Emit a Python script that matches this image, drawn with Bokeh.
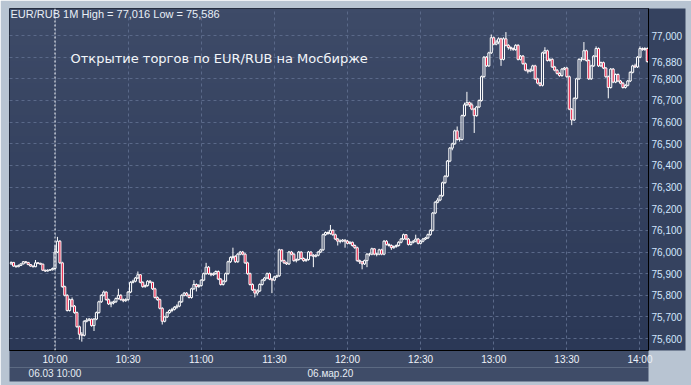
import numpy as np
from bokeh.plotting import figure
from bokeh.models import (ColumnDataSource, FixedTicker, CustomJSTickFormatter, Span,
                          Label, LinearAxis, Range1d)
from bokeh.embed import file_html
from bokeh.resources import INLINE

# ---------------- data: EUR/RUB 1-minute candles, 06.03.2020 ----------------
# minute index relative to 10:00 (first bar 09:42, last bar 14:03)
minutes = list(range(-18, 244))
first_open = 75.945

close = [
    75.952, 75.935, 75.932, 75.938, 75.945, 75.955, 75.952, 75.942, 75.935, 75.932,
    75.950, 75.948, 75.944, 75.916, 75.912, 75.916, 75.918, 75.924,
    76.000, 76.050, 75.950, 75.840, 75.800, 75.730, 75.780, 75.750, 75.720, 75.655,
    75.620, 75.615, 75.680, 75.685, 75.690, 75.660, 75.690, 75.720, 75.770, 75.800,
    75.815, 75.780, 75.760, 75.765, 75.770, 75.785, 75.800, 75.780, 75.775, 75.780,
    75.815, 75.860, 75.865, 75.880, 75.895, 75.860, 75.840, 75.845, 75.865, 75.860,
    75.830, 75.790, 75.780, 75.740, 75.680, 75.700, 75.720, 75.730, 75.735, 75.745,
    75.750, 75.770, 75.800, 75.810, 75.800, 75.790, 75.830, 75.850, 75.840, 75.845,
    75.870, 75.900, 75.930, 75.900, 75.895, 75.900, 75.910, 75.875, 75.850, 75.865,
    75.900, 75.955, 75.975, 75.980, 75.955, 75.990, 76.000, 75.990, 75.950, 75.900,
    75.850, 75.825, 75.810, 75.820, 75.850, 75.870, 75.880, 75.900, 75.875, 75.870,
    75.885, 75.890, 76.010, 75.960, 75.950, 75.945, 76.000, 75.990, 75.960, 75.965,
    76.000, 75.970, 75.960, 75.965, 76.000, 75.985, 75.980, 75.985, 76.000, 76.010,
    76.080, 76.090, 76.085, 76.100, 76.080, 76.060, 76.050, 76.050, 76.055, 76.050,
    76.040, 76.045, 76.030, 76.020, 75.960, 75.955, 75.945, 75.960, 75.990, 75.990,
    76.015, 75.990, 75.990, 76.010, 75.990, 76.050, 76.035, 76.030, 76.020, 76.025,
    76.030, 76.045, 76.060, 76.080, 76.060, 76.035, 76.045, 76.050, 76.060, 76.040,
    76.050, 76.060, 76.065, 76.080, 76.100, 76.180, 76.230, 76.240, 76.260, 76.320,
    76.350, 76.420, 76.480, 76.500, 76.560, 76.520, 76.520, 76.630, 76.680, 76.690,
    76.680, 76.660, 76.630, 76.670, 76.700, 76.810, 76.900, 76.860, 76.920, 76.990,
    76.960, 76.970, 76.985, 76.890, 76.985, 76.955, 76.945, 76.940, 76.935, 76.955,
    76.890, 76.905, 76.870, 76.840, 76.835, 76.840, 76.860, 76.800, 76.780, 76.770,
    76.920, 76.930, 76.885, 76.890, 76.855, 76.840, 76.825, 76.815, 76.845, 76.850,
    76.810, 76.660, 76.610, 76.710, 76.800, 76.890, 76.890, 76.930, 76.885, 76.800,
    76.860, 76.905, 76.940, 76.860, 76.875, 76.850, 76.810, 76.760, 76.845, 76.785,
    76.820, 76.790, 76.780, 76.760, 76.770, 76.790, 76.830, 76.860, 76.855, 76.900,
    76.940, 76.935, 76.940, 76.880,
]

high = [
    75.956, 75.954, 75.938, 75.942, 75.948, 75.958, 75.958, 75.954, 75.944, 75.938,
    75.963, 75.953, 75.950, 75.946, 75.918, 75.920, 75.921, 75.928,
    76.030, 76.070, 76.055, 75.955, 75.845, 75.805, 75.785, 75.790, 75.755, 75.725,
    75.660, 75.630, 75.685, 75.695, 75.695, 75.692, 75.695, 75.725, 75.775, 75.805,
    75.822, 75.818, 75.785, 75.772, 75.775, 75.790, 75.830, 75.805, 75.785, 75.786,
    75.820, 75.865, 75.872, 75.885, 75.910, 75.898, 75.865, 75.850, 75.870, 75.870,
    75.862, 75.835, 75.795, 75.785, 75.745, 75.705, 75.725, 75.735, 75.742, 75.750,
    75.758, 75.775, 75.805, 75.815, 75.815, 75.805, 75.835, 75.870, 75.855, 75.852,
    75.875, 75.905, 75.950, 75.935, 75.905, 75.906, 75.915, 75.915, 75.880, 75.870,
    75.905, 75.960, 75.980, 76.020, 75.985, 75.995, 76.005, 76.005, 75.995, 75.955,
    75.905, 75.855, 75.830, 75.828, 75.855, 75.875, 75.885, 75.905, 75.905, 75.880,
    75.890, 75.895, 76.015, 76.012, 75.965, 75.955, 76.005, 76.005, 75.995, 75.970,
    76.005, 76.003, 75.975, 75.970, 76.005, 76.003, 75.990, 75.990, 76.005, 76.015,
    76.085, 76.095, 76.095, 76.125, 76.105, 76.085, 76.065, 76.058, 76.060, 76.058,
    76.055, 76.050, 76.048, 76.035, 76.025, 75.965, 75.958, 75.965, 75.995, 75.996,
    76.020, 76.018, 75.996, 76.015, 76.015, 76.055, 76.055, 76.040, 76.035, 76.030,
    76.035, 76.050, 76.065, 76.085, 76.083, 76.065, 76.050, 76.055, 76.080, 76.065,
    76.055, 76.065, 76.070, 76.085, 76.105, 76.185, 76.235, 76.250, 76.265, 76.325,
    76.355, 76.425, 76.485, 76.505, 76.565, 76.580, 76.530, 76.635, 76.690, 76.740,
    76.695, 76.690, 76.665, 76.675, 76.705, 76.815, 76.905, 76.905, 76.925, 77.005,
    76.995, 76.980, 76.992, 76.990, 76.992, 77.016, 76.960, 76.950, 76.945, 76.960,
    76.960, 76.910, 76.910, 76.875, 76.845, 76.848, 76.865, 76.865, 76.805, 76.785,
    76.925, 76.946, 76.935, 76.895, 76.895, 76.860, 76.845, 76.830, 76.850, 76.855,
    76.855, 76.815, 76.665, 76.715, 76.805, 76.895, 76.900, 76.970, 76.935, 76.890,
    76.865, 76.910, 76.950, 76.945, 76.880, 76.880, 76.855, 76.815, 76.850, 76.850,
    76.825, 76.825, 76.795, 76.785, 76.775, 76.795, 76.835, 76.865, 76.870, 76.905,
    76.950, 76.945, 76.946, 76.945,
]

low = [
    75.942, 75.932, 75.928, 75.930, 75.935, 75.943, 75.947, 75.939, 75.932, 75.929,
    75.930, 75.944, 75.940, 75.912, 75.908, 75.910, 75.913, 75.915,
    75.920, 75.995, 75.945, 75.835, 75.795, 75.725, 75.725, 75.745, 75.715, 75.650,
    75.595, 75.586, 75.610, 75.675, 75.680, 75.655, 75.635, 75.685, 75.715, 75.765,
    75.795, 75.775, 75.755, 75.745, 75.758, 75.765, 75.780, 75.775, 75.768, 75.770,
    75.775, 75.810, 75.855, 75.860, 75.875, 75.855, 75.835, 75.835, 75.840, 75.855,
    75.825, 75.785, 75.775, 75.735, 75.665, 75.675, 75.695, 75.715, 75.722, 75.730,
    75.738, 75.745, 75.765, 75.795, 75.795, 75.785, 75.785, 75.825, 75.818, 75.835,
    75.840, 75.865, 75.895, 75.895, 75.888, 75.890, 75.895, 75.870, 75.845, 75.845,
    75.860, 75.895, 75.950, 75.965, 75.950, 75.950, 75.985, 75.985, 75.945, 75.895,
    75.845, 75.820, 75.790, 75.800, 75.815, 75.845, 75.865, 75.875, 75.870, 75.810,
    75.865, 75.880, 75.885, 75.955, 75.945, 75.940, 75.940, 75.985, 75.955, 75.952,
    75.960, 75.965, 75.955, 75.955, 75.960, 75.980, 75.930, 75.975, 75.980, 75.995,
    76.005, 76.075, 76.080, 76.080, 76.075, 76.055, 76.030, 76.040, 76.045, 76.020,
    76.035, 76.035, 76.025, 76.015, 75.955, 75.945, 75.920, 75.940, 75.930, 75.980,
    75.985, 75.985, 75.980, 75.985, 75.985, 75.985, 76.030, 76.025, 76.010, 76.015,
    76.020, 76.025, 76.040, 76.055, 76.055, 76.030, 76.030, 76.040, 76.045, 76.035,
    76.035, 76.045, 76.055, 76.060, 76.075, 76.095, 76.175, 76.225, 76.235, 76.255,
    76.315, 76.345, 76.415, 76.470, 76.495, 76.515, 76.510, 76.515, 76.625, 76.675,
    76.670, 76.655, 76.550, 76.625, 76.665, 76.695, 76.805, 76.855, 76.855, 76.915,
    76.955, 76.955, 76.960, 76.860, 76.885, 76.950, 76.935, 76.930, 76.930, 76.930,
    76.885, 76.885, 76.865, 76.835, 76.825, 76.830, 76.835, 76.795, 76.775, 76.765,
    76.765, 76.915, 76.880, 76.880, 76.850, 76.835, 76.820, 76.810, 76.810, 76.840,
    76.805, 76.655, 76.586, 76.605, 76.705, 76.795, 76.880, 76.885, 76.880, 76.795,
    76.795, 76.855, 76.900, 76.855, 76.855, 76.845, 76.805, 76.710, 76.755, 76.780,
    76.780, 76.785, 76.775, 76.755, 76.755, 76.765, 76.785, 76.825, 76.850, 76.850,
    76.895, 76.930, 76.930, 76.875,
]

x_ticks = [0, 30, 60, 90, 120, 150, 180, 210, 240]
x_tick_labels = ["10:00", "10:30", "11:00", "11:30", "12:00", "12:30", "13:00", "13:30", "14:00"]
y_ticks = [75.6, 75.7, 75.8, 75.9, 76.0, 76.1, 76.2, 76.3, 76.4, 76.5, 76.6, 76.7, 76.8, 76.9, 77.0]

instrument = "EUR/RUB"
period = "1M"
title_text = "Открытие торгов по EUR/RUB на Мосбирже"
# footer texts: label -> position on the time scale (minutes after 10:00)
cursor_label, cursor_pos = "06.03 10:00", 0
date_label, date_pos = "06.мар.20", 113

# ---------------- derived ----------------
assert len(close) == len(high) == len(low) == len(minutes)
c = np.array(close)
o = np.concatenate([[first_open], c[:-1]])
hi = np.array(high)
lo = np.array(low)
body_top = np.maximum(o, c)
body_bot = np.minimum(o, c)
fill = ["#e8143c" if cc < oo else None for oo, cc in zip(o, c)]
src = ColumnDataSource(dict(x=minutes, top=body_top, bottom=body_bot,
                            high=np.maximum(hi, body_top), low=np.minimum(lo, body_bot),
                            fill=fill))

X0, X1 = -18.67, 243.5
Y0, Y1 = 75.545, 77.125

p = figure(width=691, height=385, x_range=Range1d(X0, X1), y_range=Range1d(Y0, Y1),
           output_backend="svg", toolbar_location=None, y_axis_location="right",
           min_border_left=9, min_border_top=8, min_border_right=43, min_border_bottom=35,
           title=None)
p.border_fill_color = "#b8c4d2"
p.outline_line_color = "#1e2534"

# gradient background of the chart area
n = 64
top_rgb = np.array([0x3e, 0x4b, 0x68], dtype=float)
bot_rgb = np.array([0x2b, 0x38, 0x56], dtype=float)
t = np.linspace(0, 1, n)[:, None]
rgb = bot_rgb + (top_rgb - bot_rgb) * t
img = np.empty((n, 1), dtype=np.uint32)
view = img.view(dtype=np.uint8).reshape((n, 1, 4))
view[:, 0, 0] = rgb[:, 0]
view[:, 0, 1] = rgb[:, 1]
view[:, 0, 2] = rgb[:, 2]
view[:, 0, 3] = 255
p.image_rgba(image=[img], x=X0, y=Y0, dw=X1 - X0, dh=Y1 - Y0, level="image")

# grids
p.xgrid.ticker = FixedTicker(ticks=x_ticks)
p.ygrid.ticker = FixedTicker(ticks=y_ticks)
for g in (p.xgrid, p.ygrid):
    g.grid_line_color = "#5a6989"
    g.grid_line_dash = "3 3"
    g.grid_line_width = 1

fmt = lambda v: f"{v:.3f}".replace(".", ",")

# time axis (row 1)
xa = p.xaxis[0]
xa.ticker = FixedTicker(ticks=x_ticks)
xa.major_label_overrides = dict(zip(x_ticks, x_tick_labels))

# price axis: the last price tag hides the 76,900 label
ya = p.yaxis[0]
ya.ticker = FixedTicker(ticks=[v for v in y_ticks if abs(v - 76.9) > 1e-9] + [close[-1]])
ya.formatter = CustomJSTickFormatter(code="return tick.toFixed(3).replace('.', ',');")

# footer axis (row 2): cursor time and date
xa2 = LinearAxis(ticker=FixedTicker(ticks=[cursor_pos, date_pos]),
                 major_label_overrides={cursor_pos: cursor_label, date_pos: date_label})
p.add_layout(xa2, "below")

for ax, col, bg in ((xa, "#eef2f8", "#3f4c68"), (ya, "#d2e6fd", "#35425f"),
                    (xa2, "#e6ecf4", "#3f4c68")):
    ax.axis_line_color = "black"
    ax.axis_line_width = 1
    ax.major_tick_line_color = None
    ax.minor_tick_line_color = None
    ax.major_tick_out = 0
    ax.major_tick_in = 0
    ax.minor_tick_out = 0
    ax.minor_tick_in = 0
    ax.major_label_text_color = col
    ax.major_label_text_font = "Liberation Sans"
    ax.major_label_text_font_size = "10px"
    ax.major_label_standoff = 3
    ax.background_fill_color = bg
xa2.axis_line_color = None
xa2.major_label_standoff = 0

# candles
p.segment(x0="x", y0="top", x1="x", y1="high", source=src, line_color="white", line_width=1)
p.segment(x0="x", y0="low", x1="x", y1="bottom", source=src, line_color="white", line_width=1)
p.vbar(x="x", width=0.85, top="top", bottom="bottom", source=src,
       fill_color="fill", line_color="white", line_width=1)

# cursor line at 10:00
p.add_layout(Span(location=cursor_pos, dimension="height", line_color="white",
                  line_dash="2 2", line_width=1))

header = f"{instrument} {period} High = {fmt(hi.max())} Low = {fmt(lo.min())}"
p.add_layout(Label(x=1, y=337, x_units="screen", y_units="screen", text=header,
                   text_color="#e8eef6", text_font="Liberation Sans", text_font_size="11px",
                   text_baseline="middle"))
p.add_layout(Label(x=61, y=292, x_units="screen", y_units="screen", text=title_text,
                   text_color="#f2f5f9", text_font="DejaVu Sans", text_font_size="13px",
                   text_baseline="middle"))

open("out.html", "w").write(file_html(p, INLINE))
